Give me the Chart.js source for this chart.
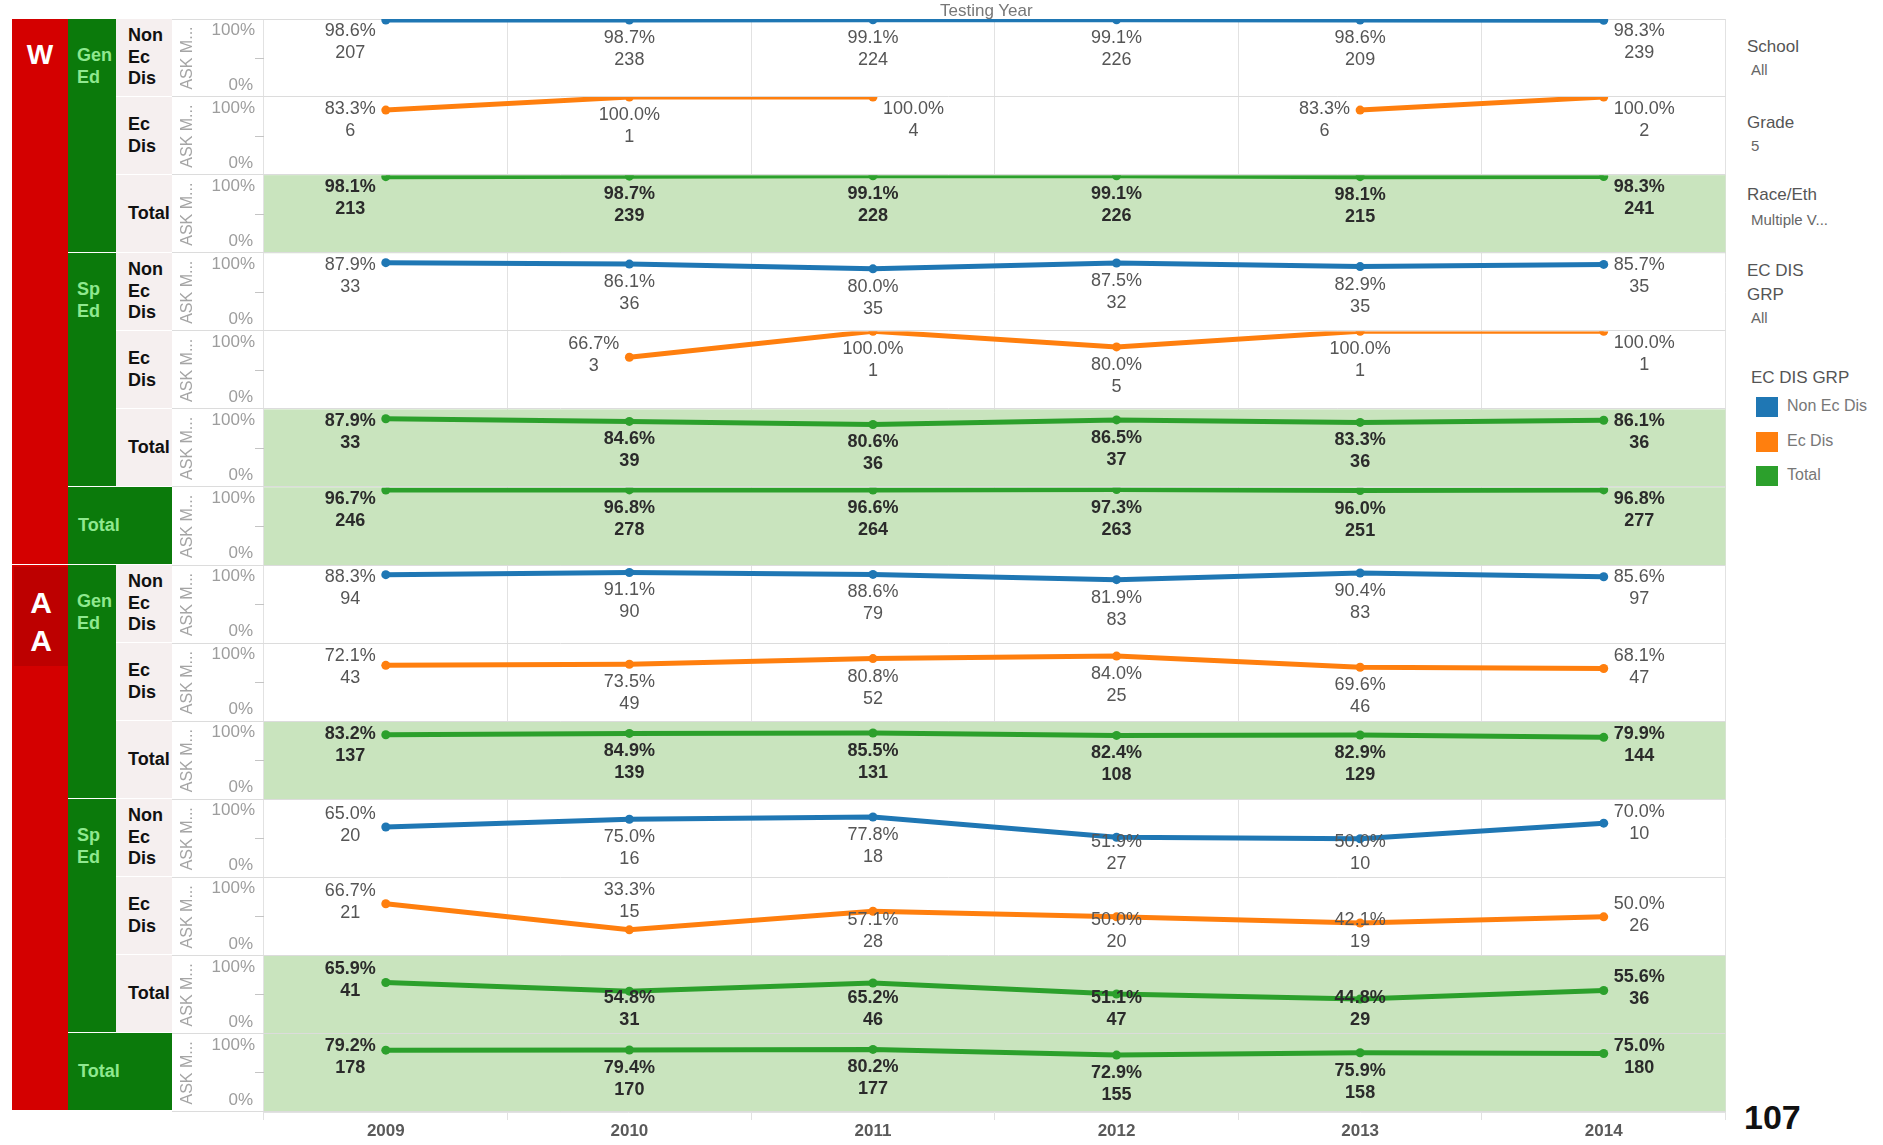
<!DOCTYPE html>
<html lang="en">
<head>
<meta charset="UTF-8">
<title>ASK Math by Testing Year</title>
<script src="https://cdn.jsdelivr.net/npm/chart.js"></script>
<style>
  body { margin:0; width:1883px; height:1145px; background:#fff; position:relative; overflow:hidden;
         font-family:"Liberation Sans", Arial, sans-serif; }
  .cell { position:absolute; box-sizing:border-box; font-weight:bold; font-size:18px; line-height:21.6px; overflow:hidden; }
  .mid { display:flex; flex-direction:column; justify-content:center; }
  .side { position:absolute; left:1747px; color:#555; font-size:17px; white-space:nowrap; }
  .side.v { font-size:15px; color:#666; left:1751px; }
  .sw { position:absolute; left:1756px; width:22px; height:20px; }
  .lg { position:absolute; left:1787px; font-size:16px; color:#777; white-space:nowrap; }
  #wrap { position:absolute; left:172px; top:0; width:1558px; height:1145px; }
</style>
</head>
<body>
<div id="heads"></div>
<div id="wrap"><canvas id="chart"></canvas></div>

<div class="side" style="left:940px;top:1px;color:#777;">Testing Year</div>

<div class="side" style="top:37px;">School</div>
<div class="side v" style="top:61px;">All</div>
<div class="side" style="top:113px;">Grade</div>
<div class="side v" style="top:137px;">5</div>
<div class="side" style="top:185px;">Race/Eth</div>
<div class="side v" style="top:211px;">Multiple V...</div>
<div class="side" style="top:261px;">EC DIS</div>
<div class="side" style="top:285px;">GRP</div>
<div class="side v" style="top:309px;">All</div>
<div class="side" style="top:368px;left:1751px;">EC DIS GRP</div>
<div class="sw" style="top:397px;background:#1f77b4;"></div><div class="lg" style="top:397px;">Non Ec Dis</div>
<div class="sw" style="top:432px;background:#ff7f0e;"></div><div class="lg" style="top:432px;">Ec Dis</div>
<div class="sw" style="top:466px;background:#2ca02c;"></div><div class="lg" style="top:466px;">Total</div>

<div style="position:absolute;left:1744px;top:1098px;font:bold 34px 'Liberation Sans', Arial, sans-serif;color:#111;">107</div>

<script>
const years = ['2009', '2010', '2011', '2012', '2013', '2014'];

// W - Gen Ed
const wGenNonPct = [98.6, 98.7, 99.1, 99.1, 98.6, 98.3];
const wGenNonN   = [207, 238, 224, 226, 209, 239];
const wGenEcPct  = [83.3, 100.0, 100.0, null, 83.3, 100.0];
const wGenEcN    = [6, 1, 4, null, 6, 2];
const wGenTotPct = [98.1, 98.7, 99.1, 99.1, 98.1, 98.3];
const wGenTotN   = [213, 239, 228, 226, 215, 241];
// W - Sp Ed
const wSpNonPct  = [87.9, 86.1, 80.0, 87.5, 82.9, 85.7];
const wSpNonN    = [33, 36, 35, 32, 35, 35];
const wSpEcPct   = [null, 66.7, 100.0, 80.0, 100.0, 100.0];
const wSpEcN     = [null, 3, 1, 5, 1, 1];
const wSpTotPct  = [87.9, 84.6, 80.6, 86.5, 83.3, 86.1];
const wSpTotN    = [33, 39, 36, 37, 36, 36];
// W - Total
const wTotPct    = [96.7, 96.8, 96.6, 97.3, 96.0, 96.8];
const wTotN      = [246, 278, 264, 263, 251, 277];

// AA - Gen Ed
const aaGenNonPct = [88.3, 91.1, 88.6, 81.9, 90.4, 85.6];
const aaGenNonN   = [94, 90, 79, 83, 83, 97];
const aaGenEcPct  = [72.1, 73.5, 80.8, 84.0, 69.6, 68.1];
const aaGenEcN    = [43, 49, 52, 25, 46, 47];
const aaGenTotPct = [83.2, 84.9, 85.5, 82.4, 82.9, 79.9];
const aaGenTotN   = [137, 139, 131, 108, 129, 144];
// AA - Sp Ed
const aaSpNonPct  = [65.0, 75.0, 77.8, 51.9, 50.0, 70.0];
const aaSpNonN    = [20, 16, 18, 27, 10, 10];
const aaSpEcPct   = [66.7, 33.3, 57.1, 50.0, 42.1, 50.0];
const aaSpEcN     = [21, 15, 28, 20, 19, 26];
const aaSpTotPct  = [65.9, 54.8, 65.2, 51.1, 44.8, 55.6];
const aaSpTotN    = [41, 31, 46, 47, 29, 36];
// AA - Total
const aaTotPct    = [79.2, 79.4, 80.2, 72.9, 75.9, 75.0];
const aaTotN      = [178, 170, 177, 155, 158, 180];

const rows = [
  { race: 'W',  prog: 'Gen Ed', grp: 'Non Ec Dis', pct: wGenNonPct,  n: wGenNonN },
  { race: 'W',  prog: 'Gen Ed', grp: 'Ec Dis',     pct: wGenEcPct,   n: wGenEcN },
  { race: 'W',  prog: 'Gen Ed', grp: 'Total',      pct: wGenTotPct,  n: wGenTotN },
  { race: 'W',  prog: 'Sp Ed',  grp: 'Non Ec Dis', pct: wSpNonPct,   n: wSpNonN },
  { race: 'W',  prog: 'Sp Ed',  grp: 'Ec Dis',     pct: wSpEcPct,    n: wSpEcN },
  { race: 'W',  prog: 'Sp Ed',  grp: 'Total',      pct: wSpTotPct,   n: wSpTotN },
  { race: 'W',  prog: 'Total',  grp: 'Total',      pct: wTotPct,     n: wTotN },
  { race: 'AA', prog: 'Gen Ed', grp: 'Non Ec Dis', pct: aaGenNonPct, n: aaGenNonN },
  { race: 'AA', prog: 'Gen Ed', grp: 'Ec Dis',     pct: aaGenEcPct,  n: aaGenEcN },
  { race: 'AA', prog: 'Gen Ed', grp: 'Total',      pct: aaGenTotPct, n: aaGenTotN },
  { race: 'AA', prog: 'Sp Ed',  grp: 'Non Ec Dis', pct: aaSpNonPct,  n: aaSpNonN },
  { race: 'AA', prog: 'Sp Ed',  grp: 'Ec Dis',     pct: aaSpEcPct,   n: aaSpEcN },
  { race: 'AA', prog: 'Sp Ed',  grp: 'Total',      pct: aaSpTotPct,  n: aaSpTotN },
  { race: 'AA', prog: 'Total',  grp: 'Total',      pct: aaTotPct,    n: aaTotN }
];

const grpColors = { 'Non Ec Dis': '#1f77b4', 'Ec Dis': '#ff7f0e', 'Total': '#2ca02c' };

// row header blocks (html)
const TOP = 19, ROW_H = 78;
const heads = document.getElementById('heads');
function cell(cls, css, html) {
  const d = document.createElement('div');
  d.className = cls;
  d.style.cssText = css;
  d.innerHTML = html;
  heads.appendChild(d);
}

function runs(key) {
  const out = [];
  rows.forEach((r, i) => {
    const k = key(r);
    const last = out[out.length - 1];
    if (last && last.k === k) last.count++;
    else out.push({ k, start: i, count: 1, row: r });
  });
  return out;
}

runs(r => r.race).forEach(g => {
  const top = TOP + g.start * ROW_H;
  const h = g.count * ROW_H - 1;
  cell('cell', `left:12px;top:${top}px;width:56px;height:${h}px;background:#d40000;`, '');
  if (g.k === 'W') {
    cell('cell', `left:12px;top:${top + 18}px;width:56px;text-align:center;color:#fff;font-size:28px;line-height:36px;`, 'W');
  } else {
    cell('cell', `left:14px;top:${top + 2}px;width:54px;height:99px;background:#bd0000;text-align:center;color:#fff;font-size:30px;line-height:38px;padding-top:17px;`, 'A<br>A');
  }
});

runs(r => r.race + '|' + r.prog).forEach(g => {
  const top = TOP + g.start * ROW_H;
  const h = g.count * ROW_H - 1;
  const prog = g.row.prog;
  if (prog === 'Total') {
    cell('cell mid', `left:68px;top:${top}px;width:104px;height:${h}px;background:#0b7a0b;color:#8fe88f;padding-left:10px;`, 'Total');
  } else {
    cell('cell', `left:68px;top:${top}px;width:48px;height:${h}px;background:#0b7a0b;color:#8fe88f;padding-left:9px;padding-top:26px;`, prog.replace(' ', '<br>'));
  }
});

rows.forEach((r, i) => {
  if (r.prog === 'Total') return;
  const top = TOP + i * ROW_H;
  cell('cell mid', `left:116px;top:${top}px;width:56px;height:${ROW_H - 1}px;background:#f5efef;color:#111;padding-left:12px;`,
       r.grp.split(' ').join('<br>'));
});

// chart
Chart.defaults.font.family = '"Liberation Sans", Arial, sans-serif';

const scales = {
  x: {
    type: 'category',
    offset: true,
    grid: { offset: true, color: '#e2e2e2', tickLength: 8 },
    border: { color: '#e2e2e2' },
    ticks: { color: '#5a5a5a', font: { size: 17, weight: 'bold' }, padding: 1 },
    afterFit: s => { s.height = 33; }
  }
};
// left boxes are laid out in reverse order, so add the last row first
for (let i = rows.length - 1; i >= 0; i--) {
  scales['y' + i] = {
    type: 'linear',
    position: 'left',
    stack: 'rows',
    stackWeight: 1,
    min: 0,
    max: 100,
    ticks: { display: false, stepSize: 50 },
    grid: {
      drawOnChartArea: false,
      tickLength: 9,
      color: c => (c.tick && c.tick.value === 50) ? '#c4c4c4' : 'rgba(0,0,0,0)'
    },
    border: { display: false },
    title: { display: true, text: 'ASK M...', color: '#a5a5a5', font: { size: 16 }, padding: { top: 6, bottom: 0 } },
    afterFit: s => { s.width = 92; }
  };
}

const FONT = '"Liberation Sans", Arial, sans-serif';

const rowPanels = {
  id: 'rowPanels',
  beforeDatasetsDraw(chart) {
    const { ctx, chartArea } = chart;
    ctx.save();
    rows.forEach((r, i) => {
      const s = chart.scales['y' + i];
      if (r.grp === 'Total') {
        ctx.fillStyle = '#c9e4be';
        ctx.fillRect(chartArea.left, s.top, chartArea.right - chartArea.left, s.bottom - s.top);
      }
    });
    ctx.strokeStyle = '#dcdcdc';
    ctx.lineWidth = 1;
    const first = chart.scales.y0;
    ctx.beginPath();
    ctx.moveTo(0, Math.round(first.top) + 0.5);
    ctx.lineTo(chartArea.right, Math.round(first.top) + 0.5);
    ctx.stroke();
    rows.forEach((r, i) => {
      const s = chart.scales['y' + i];
      const y = Math.round(s.bottom) - 0.5;
      ctx.beginPath();
      ctx.moveTo(0, y);
      ctx.lineTo(chartArea.right, y);
      ctx.stroke();
    });
    // 100% / 0% tick labels, inset inside each pane
    ctx.fillStyle = '#9d9d9d';
    ctx.font = '17px ' + FONT;
    ctx.textAlign = 'right';
    ctx.textBaseline = 'middle';
    rows.forEach((r, i) => {
      const s = chart.scales['y' + i];
      ctx.fillText('100%', chartArea.left - 9, s.top + 11);
      ctx.fillText('0%', chartArea.left - 11, s.bottom - 12);
    });
    ctx.restore();
  },
  beforeDatasetDraw(chart, args) {
    const s = chart.scales['y' + args.index];
    const ca = chart.chartArea;
    chart.ctx.save();
    chart.ctx.beginPath();
    chart.ctx.rect(ca.left, s.top, ca.right - ca.left, s.bottom - s.top);
    chart.ctx.clip();
  },
  afterDatasetDraw(chart) {
    chart.ctx.restore();
  },
  afterDatasetsDraw(chart) {
    const ctx = chart.ctx;
    ctx.save();
    ctx.textBaseline = 'middle';
    rows.forEach((r, i) => {
      const meta = chart.getDatasetMeta(i);
      const s = chart.scales['y' + i];
      const bold = r.grp === 'Total';
      ctx.font = (bold ? 'bold ' : '') + '18px ' + FONT;
      ctx.fillStyle = bold ? '#2b2b2b' : '#555';
      ctx.textAlign = 'center';
      r.pct.forEach((v, j) => {
        if (v === null) return;
        const pt = meta.data[j];
        const txt = v.toFixed(1) + '%';
        const w = ctx.measureText(txt).width;
        const isFirst = j === 0 || r.pct[j - 1] === null;
        const isLast = j === r.pct.length - 1 || r.pct[j + 1] === null;
        let cx = pt.x, y1;
        if (isFirst || isLast) {
          cx = isFirst ? pt.x - 10 - w / 2 : pt.x + 10 + w / 2;
          y1 = Math.max(pt.y - 13, s.top + 12);
          y1 = Math.min(y1, s.bottom - 36);
        } else {
          y1 = pt.y + 18;
          if (y1 + 22 > s.bottom - 14) {
            y1 = s.bottom - 36;
            // only flip above the point when pushing it up would cover the point badly
            if (pt.y - y1 > 6) y1 = Math.max(pt.y - 40, s.top + 12);
          }
        }
        ctx.fillText(txt, cx, y1);
        ctx.fillText(String(r.n[j]), cx, y1 + 22);
      });
    });
    ctx.restore();
  }
};

new Chart(document.getElementById('chart'), {
  type: 'line',
  data: {
    labels: years,
    datasets: rows.map((r, i) => ({
      label: r.race + ' ' + r.prog + ' ' + r.grp,
      data: r.pct,
      yAxisID: 'y' + i,
      borderColor: grpColors[r.grp],
      backgroundColor: grpColors[r.grp],
      borderWidth: 5,
      pointRadius: 4.5,
      pointBorderWidth: 0,
      pointHoverRadius: 4.5,
      tension: 0,
      spanGaps: false
    }))
  },
  options: {
    responsive: true,
    maintainAspectRatio: false,
    animation: false,
    layout: { padding: { top: 19, right: 4, left: 0, bottom: 0 } },
    plugins: { legend: { display: false }, tooltip: { enabled: false } },
    scales: scales
  },
  plugins: [rowPanels]
});
</script>
</body>
</html>
